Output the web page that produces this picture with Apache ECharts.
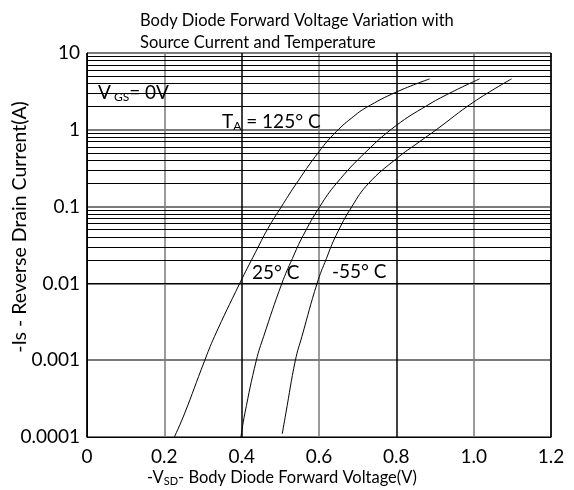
<!DOCTYPE html>
<html>
<head>
<meta charset="utf-8">
<script src="https://cdn.jsdelivr.net/npm/echarts@6/dist/echarts.min.js"></script>
<style>
  html, body { margin: 0; padding: 0; background: #fff; }
  #main { width: 574px; height: 490px; }
</style>
</head>
<body>
<div id="main"></div>
<script>
// 刻度标签
const xTickLabels = ['0', '0.2', '0.4', '0.6', '0.8', '1.0', '1.2']
const yTickLabels = ['0.0001', '0.001', '0.01', '0.1', '1', '10']

// 读图得到的曲线点 [Vsd(V), Is(A)]
const curve125 = [
  [0.226, 1e-4], [0.252, 2.0e-4], [0.303, 9.5e-4], [0.33, 2.05e-3], [0.395, 0.01],
  [0.435, 0.025], [0.468, 0.052], [0.503, 0.1], [0.537, 0.185], [0.60, 0.52],
  [0.645, 0.95], [0.69, 1.5], [0.722, 1.95], [0.80, 3.1], [0.886, 4.6]
]
const curve25 = [
  [0.398, 1e-4], [0.408, 2.0e-4], [0.438, 1e-3], [0.457, 2.05e-3], [0.504, 0.01],
  [0.531, 0.021], [0.559, 0.042], [0.602, 0.1], [0.645, 0.2], [0.722, 0.52],
  [0.80, 1.14], [0.878, 2.05], [0.938, 3.0], [1.015, 4.6]
]
const curveM55 = [
  [0.505, 1.1e-4], [0.514, 2.0e-4], [0.539, 1e-3], [0.556, 2.05e-3], [0.595, 0.01],
  [0.619, 0.021], [0.644, 0.042], [0.685, 0.1], [0.728, 0.2], [0.80, 0.42],
  [0.86, 0.7], [0.903, 1.0], [1.0, 2.3], [1.098, 4.6]
]

// 对数网格的次刻度线 (2..9 × 每个十进位)
const minorLines = []
for (let d = -4; d < 1; d++) {
  for (let m = 2; m <= 9; m++) minorLines.push({ yAxis: m * Math.pow(10, d) })
}

const FONT = 'Lato'

const curveSeries = (data) => ({
  type: 'line',
  data: data,
  smooth: 0.45,
  showSymbol: false,
  lineStyle: { color: '#000', width: 1 },
  z: 5,
  animation: false
})

var myChart = echarts.init(document.getElementById('main'))

myChart.setOption({
  backgroundColor: '#fff',
  textStyle: { fontFamily: FONT, color: '#000' },
  grid: {
    left: 87, right: 23, top: 53, bottom: 53,
    show: true, borderColor: '#000', borderWidth: 1
  },
  xAxis: {
    type: 'value',
    min: 0, max: 1.2, interval: 0.2,
    axisLine: { lineStyle: { color: '#000', width: 1 } },
    axisTick: { show: false },
    axisLabel: {
      fontSize: 19, color: '#000', margin: 10, fontFamily: FONT,
      formatter: (v) => xTickLabels[Math.round(v / 0.2)]
    },
    splitLine: { show: true, lineStyle: { color: ['#000', '#7a7a7a'], width: 1.5 } }
  },
  yAxis: {
    type: 'log',
    logBase: 10,
    min: 0.0001, max: 10,
    axisLine: { show: true, lineStyle: { color: '#000', width: 1 } },
    axisTick: { show: false },
    axisLabel: {
      fontSize: 19, color: '#000', margin: 7, fontFamily: FONT,
      formatter: (v) => yTickLabels[Math.round(Math.log10(v)) + 4]
    },
    splitLine: { show: true, lineStyle: { color: '#7a7a7a', width: 2 } }
  },
  graphic: [
    {
      type: 'text', left: 140, top: 10,
      style: {
        text: 'Body Diode Forward Voltage Variation with\nSource Current and Temperature',
        font: '16.5px ' + FONT, fill: '#000', lineHeight: 22
      }
    },
    {
      type: 'text', x: 20, y: 227, rotation: Math.PI / 2,
      style: {
        text: '-Is - Reverse Drain Current(A)',
        font: '19.5px ' + FONT, fill: '#000', align: 'center', verticalAlign: 'middle'
      }
    },
    {
      type: 'text', x: 282, y: 478,
      style: {
        text: '-V{sub|SD}- Body Diode Forward Voltage(V)',
        font: '16.5px ' + FONT, fill: '#000', align: 'center', verticalAlign: 'middle',
        rich: { sub: { fontSize: 11, fontFamily: FONT, padding: [6, 0, 0, 0] } }
      }
    },
    {
      type: 'text', x: 98, y: 93, z: 10,
      style: {
        text: 'V{sub| GS}= 0V',
        font: '19px ' + FONT, fill: '#000', verticalAlign: 'middle',
        rich: { sub: { fontSize: 12, fontFamily: FONT, padding: [8, 0, 0, 0] } }
      }
    },
    {
      type: 'text', x: 222, y: 122, z: 10,
      style: {
        text: 'T{sub|A} = 125° C',
        font: '19px ' + FONT, fill: '#000', verticalAlign: 'middle',
        rich: { sub: { fontSize: 12, fontFamily: FONT, padding: [8, 0, 0, 0] } }
      }
    },
    {
      type: 'text', x: 252, y: 273, z: 10,
      style: { text: '25° C', font: '19px ' + FONT, fill: '#000', verticalAlign: 'middle' }
    },
    {
      type: 'text', x: 332, y: 272, z: 10,
      style: { text: '-55° C', font: '19px ' + FONT, fill: '#000', verticalAlign: 'middle' }
    }
  ],
  series: [
    {
      type: 'line',
      data: [],
      z: 1,
      silent: true,
      animation: false,
      markLine: {
        silent: true,
        symbol: 'none',
        animation: false,
        label: { show: false },
        lineStyle: { color: '#000', width: 1, type: 'solid' },
        data: minorLines
      }
    },
    curveSeries(curve125),
    curveSeries(curve25),
    curveSeries(curveM55)
  ]
})
</script>
</body>
</html>
